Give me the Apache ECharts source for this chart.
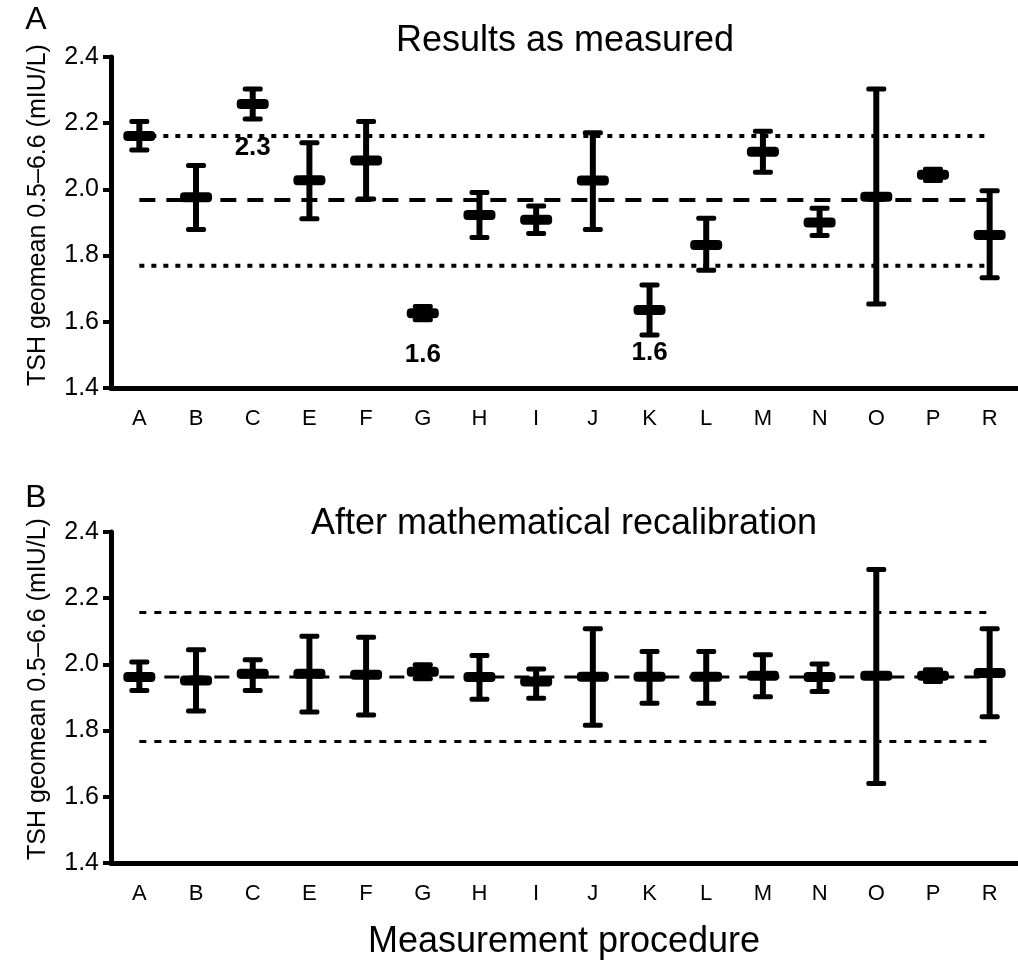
<!DOCTYPE html>
<html>
<head>
<meta charset="UTF-8">
<title>TSH geomean</title>
<script src="https://cdn.jsdelivr.net/npm/echarts@6/dist/echarts.min.js"></script>
<style>
  html, body { margin: 0; padding: 0; background: #fff; }
  #main { width: 1018px; height: 964px; }
</style>
</head>
<body>
<div id="main"></div>
<script>
// categories (measurement procedures)
var categories = ['A', 'B', 'C', 'E', 'F', 'G', 'H', 'I', 'J', 'K', 'L', 'M', 'N', 'O', 'P', 'R'];

// panel A: results as measured
var meanA = [2.161, 1.976, 2.258, 2.028, 2.087, 1.626, 1.923, 1.908, 2.027, 1.636, 1.832, 2.114, 1.900, 1.978, 2.044, 1.862];
var lowA  = [2.119, 1.879, 2.213, 1.911, 1.971, 1.606, 1.855, 1.867, 1.879, 1.560, 1.756, 2.052, 1.861, 1.654, 2.027, 1.733];
var highA = [2.205, 2.072, 2.303, 2.141, 2.205, 1.646, 1.991, 1.950, 2.171, 1.711, 1.913, 2.176, 1.943, 2.303, 2.061, 1.996];
var refA  = [2.161, 1.968, 1.769]; // upper dotted, dashed, lower dotted

// panel B: after mathematical recalibration
var meanB = [1.962, 1.951, 1.972, 1.972, 1.969, 1.978, 1.962, 1.948, 1.963, 1.963, 1.963, 1.966, 1.962, 1.966, 1.966, 1.974];
var lowB  = [1.921, 1.859, 1.921, 1.856, 1.847, 1.957, 1.895, 1.898, 1.816, 1.883, 1.883, 1.902, 1.918, 1.640, 1.948, 1.842];
var highB = [2.007, 2.044, 2.014, 2.085, 2.082, 1.999, 2.027, 1.986, 2.108, 2.039, 2.039, 2.029, 2.001, 2.287, 1.984, 2.108];
var refB  = [2.157, 1.962, 1.767];

// value labels in panel A
var noteCats = ['C', 'G', 'K'];
var noteVals = [2.127, 1.500, 1.506];
var noteText = ['2.3', '1.6', '1.6'];

var yMin = 1.4, yMax = 2.4, yStep = 0.2;
var FONT = 'Liberation Sans, Arial, Helvetica, sans-serif';

function errorBars(params, api) {
    var x = api.value(0);
    var m = api.coord([x, api.value(1)]);
    var lo = api.coord([x, api.value(2)]);
    var hi = api.coord([x, api.value(3)]);
    var cx = m[0];
    var st = { fill: '#000' };
    return {
        type: 'group',
        children: [
            { type: 'rect', shape: { x: cx - 3, y: hi[1], width: 6, height: lo[1] - hi[1] }, style: st },
            { type: 'rect', shape: { x: cx - 10, y: hi[1] - 2.5, width: 20, height: 5, r: 2 }, style: st },
            { type: 'rect', shape: { x: cx - 10, y: lo[1] - 2.5, width: 20, height: 5, r: 2 }, style: st },
            { type: 'rect', shape: { x: cx - 16, y: m[1] - 5, width: 32, height: 10, r: 4 }, style: st }
        ]
    };
}

function noteItem(params, api) {
    var p = api.coord([api.value(0), api.value(1)]);
    return {
        type: 'text',
        x: p[0], y: p[1],
        style: {
            text: noteText[params.dataIndex],
            font: 'bold 26px ' + FONT,
            fill: '#000',
            align: 'center',
            verticalAlign: 'middle'
        }
    };
}

function barData(mean, low, high) {
    return categories.map(function (c, i) { return [i, mean[i], low[i], high[i]]; });
}

function refLine(idx, v, width, dash) {
    return {
        type: 'line',
        xAxisIndex: idx, yAxisIndex: idx,
        data: [[0, v], [categories.length - 1, v]],
        symbol: 'none',
        silent: true,
        z: 1,
        lineStyle: { color: '#000', width: width, type: dash, cap: 'butt' }
    };
}

function xAxisOf(idx) {
    return {
        type: 'category',
        gridIndex: idx,
        data: categories,
        boundaryGap: true,
        axisLine: { lineStyle: { color: '#000', width: 5 } },
        axisTick: { length: 9, lineStyle: { color: '#000', width: 4 } },
        axisLabel: { color: '#000', fontSize: 22, fontFamily: FONT, margin: 20 },
        splitLine: { show: false }
    };
}

function yAxisOf(idx) {
    return {
        type: 'value',
        gridIndex: idx,
        min: yMin, max: yMax, interval: yStep,
        axisLine: { show: true, lineStyle: { color: '#000', width: 5 } },
        axisTick: { show: true, length: 8, lineStyle: { color: '#000', width: 4 } },
        axisLabel: {
            color: '#000', fontSize: 25, fontFamily: FONT, margin: 12,
            formatter: function (v) { return v.toFixed(1); }
        },
        splitLine: { show: false }
    };
}

var chart = echarts.init(document.getElementById('main'));

var option = {
    backgroundColor: '#fff',
    animation: false,
    grid: [
        { left: 111, top: 57, width: 908, height: 331 },
        { left: 111, top: 532, width: 908, height: 331 }
    ],
    xAxis: [xAxisOf(0), xAxisOf(1)],
    yAxis: [yAxisOf(0), yAxisOf(1)],
    graphic: [
        { type: 'text', x: 36, y: 20, style: { text: 'A', font: '32px ' + FONT, fill: '#000', align: 'center', verticalAlign: 'middle' } },
        { type: 'text', x: 36, y: 498, style: { text: 'B', font: '32px ' + FONT, fill: '#000', align: 'center', verticalAlign: 'middle' } },
        { type: 'text', x: 565, y: 41, style: { text: 'Results as measured', font: '36px ' + FONT, fill: '#000', align: 'center', verticalAlign: 'middle' } },
        { type: 'text', x: 564, y: 524, style: { text: 'After mathematical recalibration', font: '36px ' + FONT, fill: '#000', align: 'center', verticalAlign: 'middle' } },
        { type: 'text', x: 564, y: 942, style: { text: 'Measurement procedure', font: '36px ' + FONT, fill: '#000', align: 'center', verticalAlign: 'middle' } },
        { type: 'text', x: 38, y: 215, rotation: Math.PI / 2, style: { text: 'TSH geomean 0.5\u20136.6 (mIU/L)', font: '25px ' + FONT, fill: '#000', align: 'center', verticalAlign: 'middle' } },
        { type: 'text', x: 38, y: 689, rotation: Math.PI / 2, style: { text: 'TSH geomean 0.5\u20136.6 (mIU/L)', font: '25px ' + FONT, fill: '#000', align: 'center', verticalAlign: 'middle' } }
    ],
    series: [
        refLine(0, refA[0], 4, [5, 7]),
        refLine(0, refA[1], 4, [16, 11]),
        refLine(0, refA[2], 4, [5, 7]),
        refLine(1, refB[0], 3, [7, 8]),
        refLine(1, refB[1], 3, [15, 10]),
        refLine(1, refB[2], 3, [7, 8]),
        {
            type: 'custom', xAxisIndex: 0, yAxisIndex: 0, z: 5,
            renderItem: errorBars,
            encode: { x: 0, y: [1, 2, 3] },
            data: barData(meanA, lowA, highA)
        },
        {
            type: 'custom', xAxisIndex: 1, yAxisIndex: 1, z: 5,
            renderItem: errorBars,
            encode: { x: 0, y: [1, 2, 3] },
            data: barData(meanB, lowB, highB)
        },
        {
            type: 'custom', xAxisIndex: 0, yAxisIndex: 0, z: 6,
            renderItem: noteItem,
            encode: { x: 0, y: 1 },
            data: noteCats.map(function (c, i) { return [categories.indexOf(c), noteVals[i]]; })
        }
    ]
};

chart.setOption(option);
</script>
</body>
</html>
